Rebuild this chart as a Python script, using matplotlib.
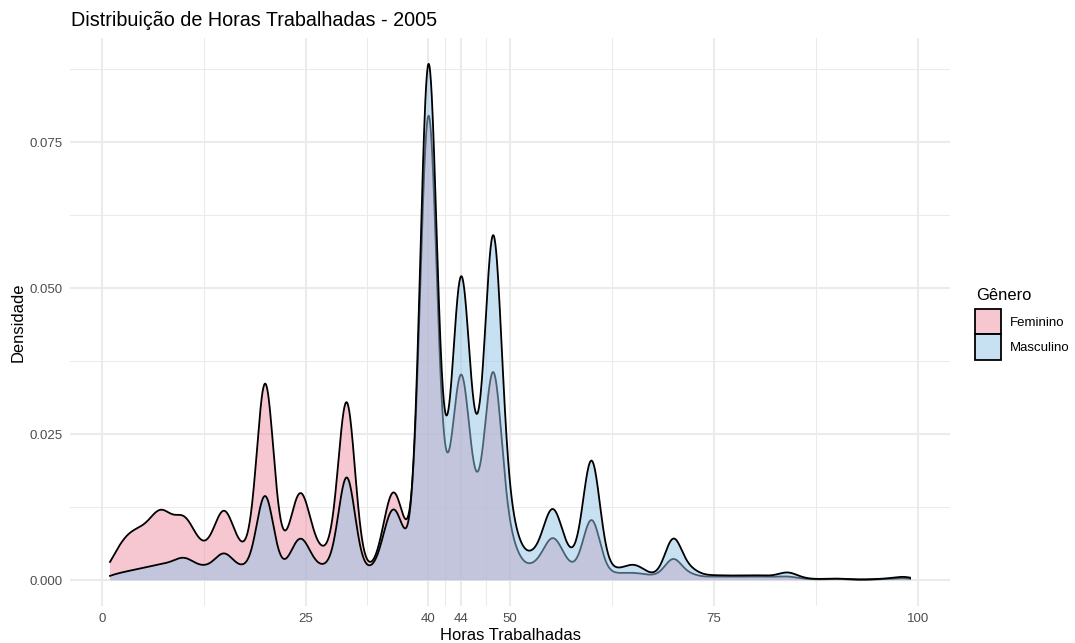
import numpy as np
import matplotlib
matplotlib.use("Agg")
import matplotlib.pyplot as plt
from matplotlib.patches import Rectangle
from matplotlib.colors import to_rgba

plt.rcParams['font.family'] = ['Liberation Sans', 'DejaVu Sans']

# ---------------- data ----------------
title = "Distribuição de Horas Trabalhadas - 2005"
x_label = "Horas Trabalhadas"
y_label = "Densidade"
legend_title = "Gênero"
groups = ["Feminino", "Masculino"]

hours = np.arange(1, 100)

# share of workers reporting each weekly hour value (estimated)
fem_weights = [
    0.003, 0.006, 0.008, 0.009, 0.009, 0.010, 0.014, 0.012, 0.009, 0.014,   # 1-10
    0.009, 0.006, 0.005, 0.009, 0.018, 0.008, 0.005, 0.005, 0.005, 0.0763,  # 11-20
    0.006, 0.0045, 0.0045, 0.0229, 0.0152, 0.005, 0.005, 0.005, 0.005, 0.0705,  # 21-30
    0.003, 0.002, 0.002, 0.002, 0.0156, 0.0234, 0.005, 0.005, 0.006, 0.187,  # 31-40
    0.010, 0.013, 0.010, 0.0712, 0.012, 0.012, 0.012, 0.0751, 0.006, 0.010,  # 41-50
    0.003, 0.002, 0.003, 0.003, 0.011, 0.007, 0.002, 0.002, 0.002, 0.0232,   # 51-60
    0.0015, 0.0012, 0.0012, 0.0012, 0.0014, 0.0012, 0.0008, 0.0008, 0.0008, 0.0078,  # 61-70
    0.0008, 0.0015, 0.0006, 0.0005, 0.0007, 0.0006, 0.0006, 0.0006, 0.0006, 0.0007,  # 71-80
    0.0006, 0.0006, 0.0005, 0.0009, 0.0004, 0.0002, 0.00015, 0.00015, 0.00015, 0.0003,  # 81-90
    0.00015, 0.0001, 0.0001, 0.0001, 0.00015, 0.0002, 0.0002, 0.0005, 0.0003,  # 91-99
]
masc_weights = [
    0.0009, 0.0012, 0.0015, 0.0018, 0.0021, 0.0024, 0.0027, 0.003, 0.003, 0.0052,  # 1-10
    0.003, 0.0024, 0.0022, 0.003, 0.0075, 0.0025, 0.0022, 0.0022, 0.0025, 0.0328,  # 11-20
    0.002, 0.0018, 0.0018, 0.0111, 0.0074, 0.0018, 0.0025, 0.0025, 0.0022, 0.0409,  # 21-30
    0.002, 0.0018, 0.0018, 0.0018, 0.0126, 0.0188, 0.004, 0.004, 0.005, 0.2095,  # 31-40
    0.010, 0.016, 0.014, 0.106, 0.018, 0.018, 0.018, 0.1262, 0.010, 0.015,  # 41-50
    0.005, 0.004, 0.005, 0.005, 0.019, 0.0115, 0.003, 0.004, 0.004, 0.0462,  # 51-60
    0.003, 0.002, 0.0018, 0.002, 0.0035, 0.0025, 0.0008, 0.0008, 0.0010, 0.0158,  # 61-70
    0.0015, 0.003, 0.001, 0.0008, 0.0009, 0.0008, 0.0008, 0.0008, 0.0008, 0.0009,  # 71-80
    0.0008, 0.0007, 0.0008, 0.0022, 0.0008, 0.0003, 0.0002, 0.0002, 0.0002, 0.0004,  # 81-90
    0.0002, 0.0001, 0.0001, 0.0001, 0.0002, 0.0003, 0.0003, 0.0009, 0.0005,  # 91-99
]
bandwidths = [1.0, 1.0]

x_major = [0, 25, 40, 44, 50, 75, 100]
x_minor = [12.5, 32.5, 42, 47, 62.5, 87.5]
y_major = [0.0, 0.025, 0.05, 0.075]
y_minor = [0.0125, 0.0375, 0.0625, 0.0875]
y_major_labels = ["0.000", "0.025", "0.050", "0.075"]

fill_colors = ["#EF91A5", "#91C5E7"]
fill_alpha = 0.5


def kde(grid, pts, w, bw):
    pts = np.asarray(pts, float)
    w = np.asarray(w, float)
    z = (grid[:, None] - pts[None, :]) / bw
    return (w[None, :] * np.exp(-0.5 * z ** 2)).sum(axis=1) / (bw * np.sqrt(2 * np.pi))


# ---------------- figure ----------------
W, H = 1075, 643
fig = plt.figure(figsize=(W / 100, H / 100), dpi=100)
ax = fig.add_axes([70 / W, 1 - 606 / H, 880 / W, 568 / H])

grid = np.linspace(hours.min(), hours.max(), 2000)
dens = [kde(grid, hours, fem_weights, bandwidths[0]),
        kde(grid, hours, masc_weights, bandwidths[1])]

LW = 1.3
for i, d in enumerate(dens):
    ax.fill_between(grid, 0, d, facecolor=to_rgba(fill_colors[i], fill_alpha),
                    edgecolor='none', zorder=2 + 2 * i)
    ax.plot(grid, d, color='black', lw=LW, zorder=3 + 2 * i,
            solid_joinstyle='round')

ymax = max(d.max() for d in dens)
ymin = 0.0
xr = hours.max() - hours.min()
ax.set_xlim(hours.min() - 0.05 * xr, hours.max() + 0.05 * xr)
ax.set_ylim(ymin - 0.05 * (ymax - ymin), ymax + 0.05 * (ymax - ymin))

ax.set_xticks(x_major)
ax.set_xticks(x_minor, minor=True)
ax.set_yticks(y_major)
ax.set_yticklabels(y_major_labels)
ax.set_yticks(y_minor, minor=True)

for s in ax.spines.values():
    s.set_visible(False)
ax.grid(which='major', color='#EBEBEB', lw=1.5)
ax.grid(which='minor', color='#EBEBEB', lw=0.75)
ax.set_axisbelow(True)
ax.tick_params(which='both', length=0)
ax.tick_params(which='major', pad=5, labelsize=9.5, labelcolor='#4D4D4D')

ax.set_xlabel(x_label, fontsize=11.9, labelpad=2.0)
ax.set_ylabel(y_label, fontsize=11.9, labelpad=3.3)

fig.text(71 / W, 1 - 26 / H, title, fontsize=14.25, ha='left', va='baseline')

# ---------------- legend (ggplot-style, keys touching) ----------------
fig.text(976 / W, 1 - 300.5 / H, legend_title, fontsize=11.9,
         ha='left', va='baseline')
key_w, key_h = 26 / W, 25.5 / H
key_x = 974.5 / W
key_top = 1 - 308.5 / H
for i, (lab, c) in enumerate(zip(groups, fill_colors)):
    y0 = key_top - (i + 1) * key_h
    fig.add_artist(Rectangle((key_x, y0), key_w, key_h,
                             transform=fig.transFigure,
                             facecolor=to_rgba(c, fill_alpha),
                             edgecolor='black', lw=LW))
    fig.text(1010 / W, y0 + key_h / 2, lab, fontsize=9.5,
             ha='left', va='center_baseline')

fig.savefig("out.png", dpi=100)
